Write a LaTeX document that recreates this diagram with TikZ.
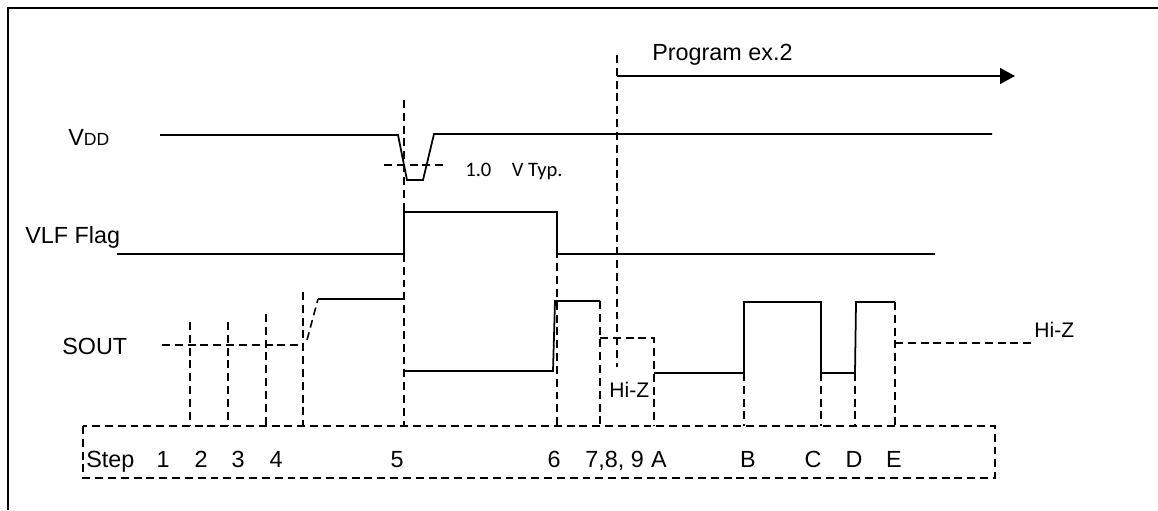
\documentclass[tikz,border=0pt]{standalone}
\usepackage{fontspec}
\setmainfont{Liberation Sans}
\newfontfamily\calfont{Carlito}
\usetikzlibrary{arrows.meta}

\begin{document}
\begin{tikzpicture}[x=0.02cm, y=-0.02cm,
  sig/.style={line width=1pt},
  guide/.style={line width=0.9pt, dash pattern=on 4.5pt off 2.8pt},
  lbl/.style={font=\fontsize{13.3}{15}\selectfont, inner sep=0pt},
  small/.style={font=\fontsize{12}{14}\selectfont, inner sep=0pt}
]
\useasboundingbox (0,0) rectangle (1158,510);
% outer frame (cut by the page)
\draw[line width=1.7pt] (8,510) -- (8,8) -- (1158,8);

% signal names
\node[lbl, anchor=base west] (vdd) at (68,145) {V{\fontsize{10}{12}\selectfont DD}};
\node[lbl, anchor=base west] (vlf) at (25,243) {VLF Flag};
\node[lbl, anchor=base west] (sout) at (62,354) {SOUT};

% VDD with the dip
\draw[sig] (160,135) -- (398,135) -- (407,180) -- (423,180) -- (434,134) -- (992,134);
\draw[guide] (384,165) -- (448,165);
\node[font=\calfont\fontsize{11.7}{14}\selectfont, inner sep=0pt, anchor=base west] (typ) at (465,176) {1.0\quad V Typ.};

% VLF flag
\draw[sig] (117,254) -- (404,254) -- (404,212) -- (557,212) -- (557,254) -- (935,254);

% SOUT
\draw[guide] (162,345) -- (303,345);
\draw[guide] (307,340) -- (318,299);
\draw[sig] (318,299) -- (404,299);
\draw[sig] (404,371) -- (553,371) -- (555,301) -- (600,301);
\draw[guide] (600,301) -- (600,426);
\draw[guide] (600,338) -- (654,338) -- (654,426);
\node[small, anchor=base west] (hiz1) at (609,397) {Hi-Z};
\draw[sig] (654,373) -- (744,373) -- (744,302) -- (821,302) -- (821,373) -- (855,373) -- (856,302) -- (895,302);
\draw[guide] (895,302) -- (895,426);
\draw[guide] (895,343) -- (1032,343);
\node[small, anchor=base west] (hiz2) at (1034,337) {Hi-Z};

% step marks
\draw[guide] (190,322) -- (190,426);
\draw[guide] (228,322) -- (228,426);
\draw[guide] (266,314) -- (266,426);
\draw[guide] (303,292) -- (303,426);
\draw[guide] (404,100) -- (404,426);
\draw[guide] (557,212) -- (557,426);
\draw[guide] (617,55) -- (617,367);
\draw[guide] (744,373) -- (744,426);
\draw[guide] (821,373) -- (821,426);
\draw[guide] (855,373) -- (855,426);

% program arrow
\draw[sig, -{Triangle[length=8.5pt, width=9pt]}] (617,76) -- (1015,76);
\node[lbl, anchor=base west] (prog) at (652,61) {Program ex.2};

% step row
\draw[guide] (83,426) rectangle (995,478);
\node[lbl, anchor=base west] (step) at (86,467) {Step};
\node[lbl, anchor=base] (s1) at (163,467) {1};
\node[lbl, anchor=base] (s2) at (201,467) {2};
\node[lbl, anchor=base] (s3) at (238,467) {3};
\node[lbl, anchor=base] (s4) at (276,467) {4};
\node[lbl, anchor=base] (s5) at (397,467) {5};
\node[lbl, anchor=base] (s6) at (554,467) {6};
\node[lbl, anchor=base west] (s789) at (585,467) {7,8, 9};
\node[lbl, anchor=base] (sa) at (659,467) {A};
\node[lbl, anchor=base] (sb) at (748,467) {B};
\node[lbl, anchor=base] (sc) at (813,467) {C};
\node[lbl, anchor=base] (sd) at (854,467) {D};
\node[lbl, anchor=base] (se) at (894,467) {E};
\end{tikzpicture}
\end{document}
